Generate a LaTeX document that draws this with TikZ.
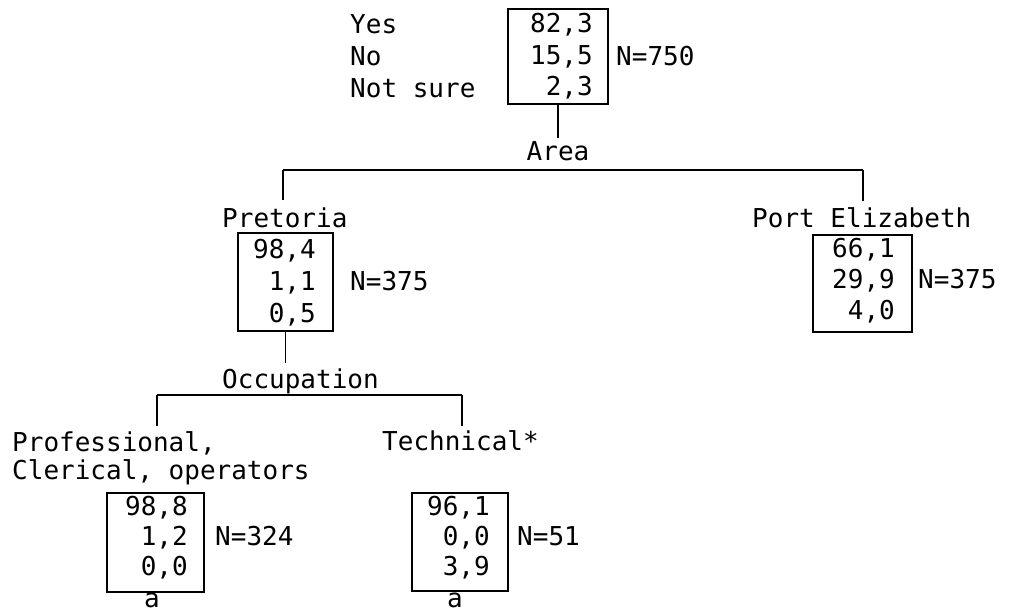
\documentclass[tikz,border=0pt]{standalone}
\usepackage{fontspec}
\newfontfamily\tw{DejaVu Sans Mono}
\begin{document}
\begin{tikzpicture}[x=1pt,y=-1pt,
  lbl/.style={font=\tw\fontsize{26}{31}\selectfont, inner sep=0pt, anchor=base west},
  num/.style={font=\tw\fontsize{26}{31}\selectfont, inner sep=0pt, anchor=base east},
  ctr/.style={font=\tw\fontsize{26}{31}\selectfont, inner sep=0pt, anchor=base},
  tbox/.style={draw, line width=1.5pt, inner sep=0pt, rectangle},
  conn/.style={line width=1.5pt}]
\useasboundingbox (0,0) rectangle (1009,614);
% boxes
\node[tbox, minimum width=100pt, minimum height=95pt] (b0) at (558,56.5) {};
\node[tbox, minimum width=95pt, minimum height=98pt] (b1) at (285.5,282) {};
\node[tbox, minimum width=99pt, minimum height=97pt] (b2) at (862.5,283.5) {};
\node[tbox, minimum width=97pt, minimum height=99pt] (b3) at (155.5,542.5) {};
\node[tbox, minimum width=96pt, minimum height=98pt] (b4) at (460,542) {};
% top
\node[lbl] (yes) at (350,33) {Yes};
\node[lbl] (no) at (350,65) {No};
\node[lbl] (ns) at (350,97) {Not sure};
\node[num] (t1) at (593,32) {82,3};
\node[num] (t2) at (593,64) {15,5};
\node[num] (t3) at (593,95) {2,3};
\node[lbl] (n0) at (616,65) {N=750};
\node[ctr] (area) at (558,160) {Area};
% level 1
\node[lbl] (pret) at (222,227) {Pretoria};
\node[lbl] (pe) at (752,227) {Port Elizabeth};
\node[num] (p1) at (316,258) {98,4};
\node[num] (p2) at (316,290) {1,1};
\node[num] (p3) at (316,322) {0,5};
\node[lbl] (n1) at (350,290) {N=375};
\node[num] (e1) at (895,257) {66,1};
\node[num] (e2) at (895,288) {29,9};
\node[num] (e3) at (895,319) {4,0};
\node[lbl] (n2) at (918,288) {N=375};
\node[lbl] (occ) at (222,388) {Occupation};
% level 2
\node[lbl] (prof) at (12,451) {Professional,};
\node[lbl] (cler) at (12,479) {Clerical, operators};
\node[lbl] (tech) at (382,450) {Technical*};
\node[num] (r1) at (188,515) {98,8};
\node[num] (r2) at (188,545) {1,2};
\node[num] (r3) at (188,575) {0,0};
\node[lbl] (n3) at (215,545) {N=324};
\node[num] (c1) at (490,515) {96,1};
\node[num] (c2) at (490,545) {0,0};
\node[num] (c3) at (490,575) {3,9};
\node[lbl] (n4) at (517,545) {N=51};
\node[ctr] (a1) at (152,607) {a};
\node[ctr] (a2) at (455,607) {a};
% connectors
\coordinate (hl) at (283,170);
\coordinate (hr) at (863,170);
\coordinate (ol) at (157,395);
\coordinate (or) at (462,395);
\draw[conn, shorten >=3pt] (b0.south) -- (area.north);
\draw[conn] (hl) -- (hr);
\draw[conn, shorten >=7pt] (hl) -- (hl |- pret.north);
\draw[conn, shorten >=6pt] (hr) -- (hr |- pe.north);
\draw[conn, shorten >=5pt] (b1.south) -- (b1.south |- occ.north);
\draw[conn] (ol) -- (or);
\draw[conn, shorten >=5pt] (ol) -- (ol |- prof.north);
\draw[conn, shorten >=4pt] (or) -- (or |- tech.north);
\end{tikzpicture}
\end{document}
